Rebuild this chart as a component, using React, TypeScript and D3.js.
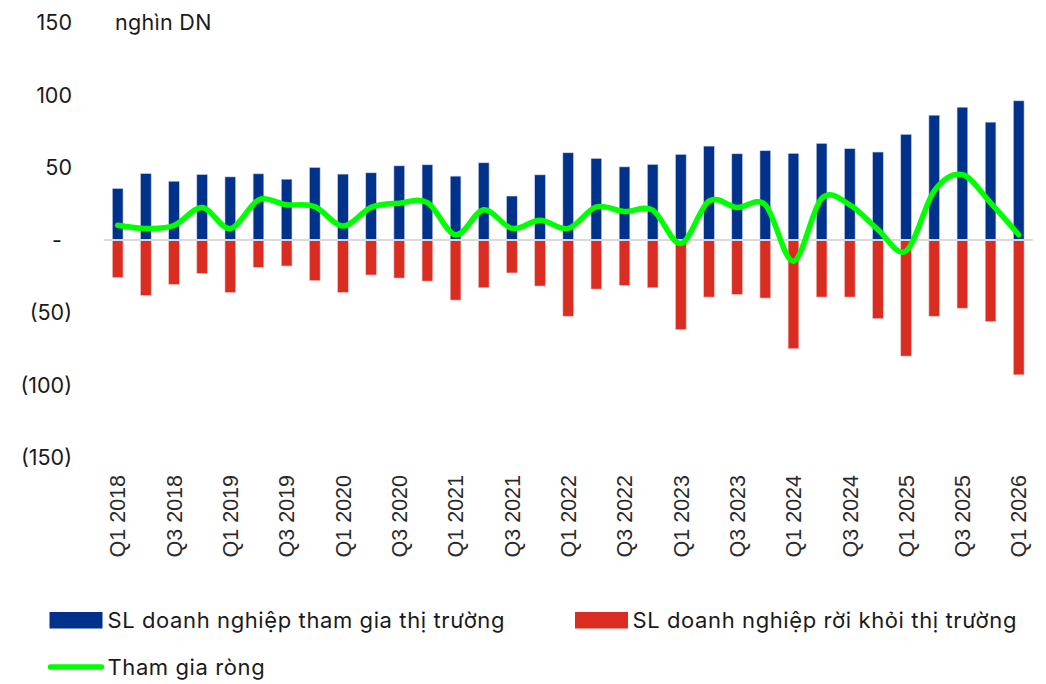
import * as d3 from "d3";

const quarters = [
  "Q1 2018", "Q2 2018", "Q3 2018", "Q4 2018",
  "Q1 2019", "Q2 2019", "Q3 2019", "Q4 2019",
  "Q1 2020", "Q2 2020", "Q3 2020", "Q4 2020",
  "Q1 2021", "Q2 2021", "Q3 2021", "Q4 2021",
  "Q1 2022", "Q2 2022", "Q3 2022", "Q4 2022",
  "Q1 2023", "Q2 2023", "Q3 2023", "Q4 2023",
  "Q1 2024", "Q2 2024", "Q3 2024", "Q4 2024",
  "Q1 2025", "Q2 2025", "Q3 2025", "Q4 2025",
  "Q1 2026",
];

// nghìn DN
const entering = [
  35.5, 45.8, 40.5, 45.1, 43.5, 45.6, 41.9, 50.0,
  45.4, 46.3, 51.1, 51.8, 44.0, 53.2, 30.3, 44.9,
  60.1, 56.2, 50.4, 52.1, 59.0, 64.7, 59.4, 61.5,
  59.7, 66.6, 62.9, 60.6, 72.8, 86.0, 91.5, 81.2,
  95.9,
];

const exiting = [
  -25.8, -38.2, -30.6, -23.0, -36.1, -18.8, -17.9, -28.0,
  -36.1, -24.1, -26.2, -28.3, -41.4, -32.9, -22.7, -31.7,
  -52.5, -33.8, -31.3, -32.9, -61.8, -39.3, -37.5, -40.0,
  -74.9, -39.3, -39.3, -54.2, -80.0, -52.5, -47.0, -56.2,
  -92.9,
];

const netEntry = [
  10.2, 8.0, 10.0, 22.4, 7.8, 27.6, 24.3, 23.0,
  9.6, 22.5, 25.4, 25.8, 3.6, 20.8, 8.0, 13.6,
  8.0, 22.8, 19.6, 20.6, -2.4, 26.8, 22.4, 24.2,
  -14.6, 28.6, 24.2, 7.2, -7.6, 33.8, 45.0, 25.6,
  3.6,
];

const yTicks = [150, 100, 50, 0, -50, -100, -150];

const seriesNames = [
  "SL doanh nghiệp tham gia thị trường",
  "SL doanh nghiệp rời khỏi thị trường",
  "Tham gia ròng",
];

const BLUE = "#00318B";
const RED = "#DA2C21";
const GREEN = "#00FF00";
const FONT = "Inter, 'Noto Sans', sans-serif";

function fmtTick(v: number) {
  if (v === 0) return "-";
  if (v < 0) return `(${Math.abs(v)})`;
  return String(v);
}

export default function App() {
  const width = 1046;
  const height = 684;

  const x = d3.scaleBand<string>()
    .domain(quarters)
    .range([103.6, 1032.8])
    .paddingInner(0.62)
    .paddingOuter(0.31);

  const y = d3.scaleLinear().domain([-150, 150]).range([457.7, 22.3]);

  const cx = (q: string) => (x(q) ?? 0) + x.bandwidth() / 2;

  const line = d3.line<number>()
    .x((_, i) => cx(quarters[i]))
    .y((d) => y(d))
    .curve(d3.curveCardinal.tension(0));

  return (
    <svg
      width={width}
      height={height}
      style={{ position: "absolute", left: 0, top: 0, background: "#fff" }}
    >
      {/* y axis labels */}
      <g fontFamily={FONT} fontSize={21.5} fill="#1a1a1a">
        {yTicks.map((t) => (
          <text
            key={t}
            x={t === 0 ? 62 : 72}
            y={y(t)}
            dy="0.36em"
            textAnchor="end"
          >
            {fmtTick(t)}
          </text>
        ))}
        <text x={115} y={29.5} letterSpacing={0.3}>nghìn DN</text>
      </g>

      {/* bars */}
      <g>
        {quarters.map((q, i) => (
          <rect
            key={"e" + q}
            x={x(q)}
            y={y(entering[i])}
            width={x.bandwidth()}
            height={y(0) - y(entering[i])}
            fill={BLUE}
            stroke="#c9d2ea"
            strokeWidth={0.6}
          />
        ))}
        {quarters.map((q, i) => (
          <rect
            key={"x" + q}
            x={x(q)}
            y={y(0)}
            width={x.bandwidth()}
            height={y(exiting[i]) - y(0)}
            fill={RED}
            stroke="#f2c6c2"
            strokeWidth={0.6}
          />
        ))}
      </g>

      {/* zero line */}
      <line
        x1={103.6}
        x2={1032.8}
        y1={y(0)}
        y2={y(0)}
        stroke="#d9d9d9"
        strokeWidth={2}
      />

      {/* net line */}
      <path
        d={line(netEntry) ?? ""}
        fill="none"
        stroke={GREEN}
        strokeWidth={5.5}
        strokeLinecap="round"
        strokeLinejoin="round"
      />

      {/* x axis labels */}
      <g fontFamily="'Liberation Sans', Arial, sans-serif" fontSize={21.5} fill="#2a2a2a">
        {quarters.map((q, i) =>
          i % 2 === 0 ? (
            <text
              key={q}
              transform={`translate(${cx(q)},475) rotate(-90)`}
              dy="0.36em"
              textAnchor="end"
            >
              {q}
            </text>
          ) : null
        )}
      </g>

      {/* legend */}
      <g fontFamily={FONT} fontSize={22} fill="#1a1a1a" letterSpacing={0.6}>
        <rect x={49.5} y={612} width={53} height={16.5} fill={BLUE} />
        <text x={107.5} y={628.3}>{seriesNames[0]}</text>
        <rect x={575} y={612} width={53} height={16.5} fill={RED} />
        <text x={632.5} y={628.3}>{seriesNames[1]}</text>
        <line
          x1={50.5}
          x2={101.5}
          y1={667}
          y2={667}
          stroke={GREEN}
          strokeWidth={5.5}
          strokeLinecap="round"
        />
        <text x={107.5} y={674.5}>{seriesNames[2]}</text>
      </g>
    </svg>
  );
}
